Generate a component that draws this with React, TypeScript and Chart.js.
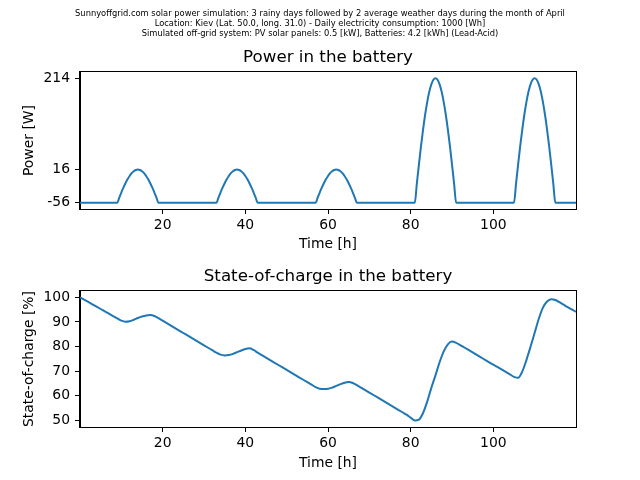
import React, { useEffect, useRef } from "react";
import { Chart, registerables } from "chart.js";

Chart.register(...registerables);

// ---------------- DATA ----------------
const suptitleLines = [
  "Sunnyoffgrid.com solar power simulation: 3 rainy days followed by 2 average weather days during the month of April",
  "Location: Kiev (Lat. 50.0, long. 31.0) - Daily electricity consumption: 1000 [Wh]",
  "Simulated off-grid system: PV solar panels: 0.5 [kW], Batteries: 4.2 [kWh] (Lead-Acid)",
];
const powerTitle = "Power in the battery";
const socTitle = "State-of-charge in the battery";
const powerAxisLabel = "Power [W]";
const socAxisLabel = "State-of-charge [%]";
const timeAxisLabel = "Time [h]";

const timeTicks = [20, 40, 60, 80, 100];
const powerTicks = [-56, 16, 214];
const socTicks = [50, 60, 70, 80, 90, 100];

const powerHours = [
  0,
  9, 9.5, 10, 10.5, 11, 11.5, 12, 12.5, 13, 13.5, 14, 14.5, 15, 15.5, 16, 16.5, 17, 17.5, 18, 18.5, 19,
  33, 33.5, 34, 34.5, 35, 35.5, 36, 36.5, 37, 37.5, 38, 38.5, 39, 39.5, 40, 40.5, 41, 41.5, 42, 42.5, 43,
  57, 57.5, 58, 58.5, 59, 59.5, 60, 60.5, 61, 61.5, 62, 62.5, 63, 63.5, 64, 64.5, 65, 65.5, 66, 66.5, 67,
  81, 81.5, 82, 82.5, 83, 83.5, 84, 84.5, 85, 85.5, 86, 86.5, 87, 87.5, 88, 88.5, 89, 89.5, 90, 90.5, 91,
  105, 105.5, 106, 106.5, 107, 107.5, 108, 108.5, 109, 109.5, 110, 110.5, 111, 111.5, 112, 112.5, 113, 113.5, 114, 114.5, 115,
  120,
];
const powerWatts = [
  -56,
  -56, -44.7, -33.8, -23.3, -13.7, -5.1, 2.2, 8.2, 12.5, 15.1, 16, 15.1, 12.5, 8.2, 2.2, -5.1, -13.7, -23.3, -33.8, -44.7, -56,
  -56, -44.7, -33.8, -23.3, -13.7, -5.1, 2.2, 8.2, 12.5, 15.1, 16, 15.1, 12.5, 8.2, 2.2, -5.1, -13.7, -23.3, -33.8, -44.7, -56,
  -56, -44.7, -33.8, -23.3, -13.7, -5.1, 2.2, 8.2, 12.5, 15.1, 16, 15.1, 12.5, 8.2, 2.2, -5.1, -13.7, -23.3, -33.8, -44.7, -56,
  -56, -13.8, 27.4, 66.6, 102.7, 134.9, 162.4, 184.6, 200.8, 210.7, 214, 210.7, 200.8, 184.6, 162.4, 134.9, 102.7, 66.6, 27.4, -13.8, -56,
  -56, -13.8, 27.4, 66.6, 102.7, 134.9, 162.4, 184.6, 200.8, 210.7, 214, 210.7, 200.8, 184.6, 162.4, 134.9, 102.7, 66.6, 27.4, -13.8, -56,
  -56,
];

const socHours = [
  0, 1, 2, 3, 4, 5, 6, 7, 8, 9, 10, 11, 12, 13, 14, 15, 16, 17, 18, 19,
  20, 21, 22, 23, 24, 25, 26, 27, 28, 29, 30, 31, 32, 33, 34, 35, 36, 37, 38, 39,
  40, 41, 42, 43, 44, 45, 46, 47, 48, 49, 50, 51, 52, 53, 54, 55, 56, 57, 58, 59,
  60, 61, 62, 63, 64, 65, 66, 67, 68, 69, 70, 71, 72, 73, 74, 75, 76, 77, 78, 79,
  80, 81, 82, 83, 84, 85, 86, 87, 88, 89, 90, 91, 92, 93, 94, 95, 96, 97, 98, 99,
  100, 101, 102, 103, 104, 105, 106, 107, 108, 109, 110, 111, 112, 113, 114, 115, 116, 117, 118, 119,
  120,
];
const socPercent = [
  100, 99.05, 98.1, 97.15, 96.2, 95.25, 94.3, 93.35, 92.4, 91.45, 90.5, 90.1, 90.3, 90.9, 91.6, 92.2, 92.65, 92.8, 92.4, 91.5,
  90.5, 89.5, 88.5, 87.5, 86.5, 85.5, 84.5, 83.5, 82.5, 81.5, 80.5, 79.5, 78.5, 77.5, 76.7, 76.4, 76.55, 77.0, 77.7, 78.4,
  79.0, 79.3, 78.6, 77.5, 76.5, 75.5, 74.5, 73.5, 72.5, 71.5, 70.5, 69.5, 68.5, 67.5, 66.5, 65.5, 64.5, 63.5, 62.85, 62.7,
  62.8, 63.3, 64.0, 64.7, 65.3, 65.6, 65.2, 64.3, 63.3, 62.3, 61.3, 60.3, 59.3, 58.3, 57.3, 56.3, 55.3, 54.3, 53.3, 52.3,
  51.1, 49.95, 50.3, 53.0, 57.6, 63.2, 68.3, 73.6, 78.0, 80.9, 82.0, 81.5, 80.6, 79.6, 78.6, 77.6, 76.6, 75.6, 74.6, 73.6,
  72.6, 71.7, 70.7, 69.7, 68.7, 67.7, 67.3, 69.8, 74.5, 79.9, 85.6, 91.3, 95.8, 98.3, 99.2, 98.9, 98.0, 97.0, 96.0, 95.1,
  94.1,
];

// ---------------- STYLE ----------------
const FONT = "'DejaVu Sans', sans-serif";
const LINE_COLOR = "#1f77b4";
const TICK_SIZE = 13.9;
const TITLE_SIZE = 16.7;

const framePlugin = {
  id: "frame",
  afterDraw(chart: any) {
    const { ctx, chartArea: a } = chart;
    ctx.save();
    ctx.strokeStyle = "#000";
    ctx.lineWidth = 1;
    ctx.strokeRect(
      Math.round(a.left) - 0.5,
      Math.round(a.top) - 0.5,
      Math.round(a.right - a.left) + 1,
      Math.round(a.bottom - a.top) + 1
    );
    ctx.restore();
  },
};

function makeConfig(opts: {
  xs: number[];
  ys: number[];
  yMin: number;
  yMax: number;
  yTicks: number[];
  yLabel: string;
  panelTitle: string;
  panelTitlePad: { top: number; bottom: number };
  suptitle?: string[];
  xAxisHeight: number;
  xTitlePadBottom: number;
}): any {
  const points = opts.xs.map((x, i) => ({ x, y: opts.ys[i] }));
  const plugins: any = {
    legend: { display: false },
    tooltip: { enabled: false },
  };
  const panel = {
    display: true,
    text: opts.panelTitle,
    color: "#000",
    fullSize: false,
    font: { family: FONT, size: TITLE_SIZE, weight: "normal", lineHeight: 1.2 },
    padding: opts.panelTitlePad,
  };
  if (opts.suptitle) {
    plugins.title = {
      display: true,
      text: opts.suptitle,
      color: "#000",
      fullSize: true,
      font: { family: FONT, size: 8.33, weight: "normal", lineHeight: "10px" },
      padding: { top: 9, bottom: 0 },
    };
    plugins.subtitle = panel;
  } else {
    plugins.title = panel;
  }
  return {
    type: "line",
    data: {
      datasets: [
        {
          data: points,
          borderColor: LINE_COLOR,
          backgroundColor: LINE_COLOR,
          borderWidth: 2,
          pointRadius: 0,
          fill: false,
          cubicInterpolationMode: "monotone",
        },
      ],
    },
    options: {
      animation: false,
      responsive: false,
      maintainAspectRatio: false,
      events: [],
      layout: { padding: { left: 0, right: 0, top: 0, bottom: 0 } },
      plugins,
      scales: {
        x: {
          type: "linear",
          min: 0,
          max: 120,
          afterBuildTicks: (s: any) => {
            s.ticks = timeTicks.map((v) => ({ value: v }));
          },
          afterFit: (s: any) => {
            s.height = opts.xAxisHeight;
          },
          ticks: {
            color: "#000",
            font: { family: FONT, size: TICK_SIZE },
            padding: 3,
            maxRotation: 0,
            autoSkip: false,
          },
          grid: {
            drawOnChartArea: false,
            drawTicks: true,
            tickLength: 5,
            color: "#000",
          },
          border: { display: true, color: "#000", width: 1 },
          title: {
            display: true,
            text: timeAxisLabel,
            color: "#000",
            font: { family: FONT, size: TICK_SIZE },
            padding: { top: 0, bottom: opts.xTitlePadBottom },
          },
        },
        y: {
          type: "linear",
          position: "left",
          min: opts.yMin,
          max: opts.yMax,
          afterBuildTicks: (s: any) => {
            s.ticks = opts.yTicks.map((v) => ({ value: v }));
          },
          afterFit: (s: any) => {
            s.width = 80;
          },
          ticks: {
            color: "#000",
            font: { family: FONT, size: TICK_SIZE },
            padding: 5,
            autoSkip: false,
          },
          grid: {
            drawOnChartArea: false,
            drawTicks: true,
            tickLength: 5,
            color: "#000",
          },
          border: { display: true, color: "#000", width: 1 },
          title: {
            display: true,
            text: opts.yLabel,
            color: "#000",
            font: { family: FONT, size: TICK_SIZE },
            padding: { top: 21.5, bottom: 0 },
          },
        },
        yRight: {
          type: "linear",
          position: "right",
          min: opts.yMin,
          max: opts.yMax,
          afterFit: (s: any) => {
            s.width = 64;
          },
          ticks: { display: false },
          grid: { display: false },
          border: { display: false },
          title: { display: false },
        },
      },
    },
    plugins: [framePlugin],
  };
}

function ChartCanvas(props: { config: any; top: number; width: number; height: number }) {
  const ref = useRef<HTMLCanvasElement>(null);
  useEffect(() => {
    const chart = new Chart(ref.current as HTMLCanvasElement, props.config);
    return () => chart.destroy();
  }, []);
  return (
    <canvas
      ref={ref}
      width={props.width}
      height={props.height}
      style={{
        position: "absolute",
        left: 0,
        top: props.top,
        width: props.width,
        height: props.height,
        display: "block",
      }}
    />
  );
}

export default function App() {
  const topConfig = makeConfig({
    xs: powerHours,
    ys: powerWatts,
    yMin: -69.5,
    yMax: 227.5,
    yTicks: powerTicks,
    yLabel: powerAxisLabel,
    panelTitle: powerTitle,
    panelTitlePad: { top: 9, bottom: 4 },
    suptitle: suptitleLines,
    xAxisHeight: 45,
    xTitlePadBottom: 1.7,
  });
  const bottomConfig = makeConfig({
    xs: socHours,
    ys: socPercent,
    yMin: 47.3,
    yMax: 102.55,
    yTicks: socTicks,
    yLabel: socAxisLabel,
    panelTitle: socTitle,
    panelTitlePad: { top: 13, bottom: 4 },
    xAxisHeight: 53,
    xTitlePadBottom: 8.7,
  });
  return (
    <div
      style={{
        position: "fixed",
        left: 0,
        top: 0,
        width: 640,
        height: 480,
        background: "#fff",
        overflow: "hidden",
      }}
    >
      <ChartCanvas config={topConfig} top={0} width={640} height={254} />
      <ChartCanvas config={bottomConfig} top={254} width={640} height={226} />
    </div>
  );
}
